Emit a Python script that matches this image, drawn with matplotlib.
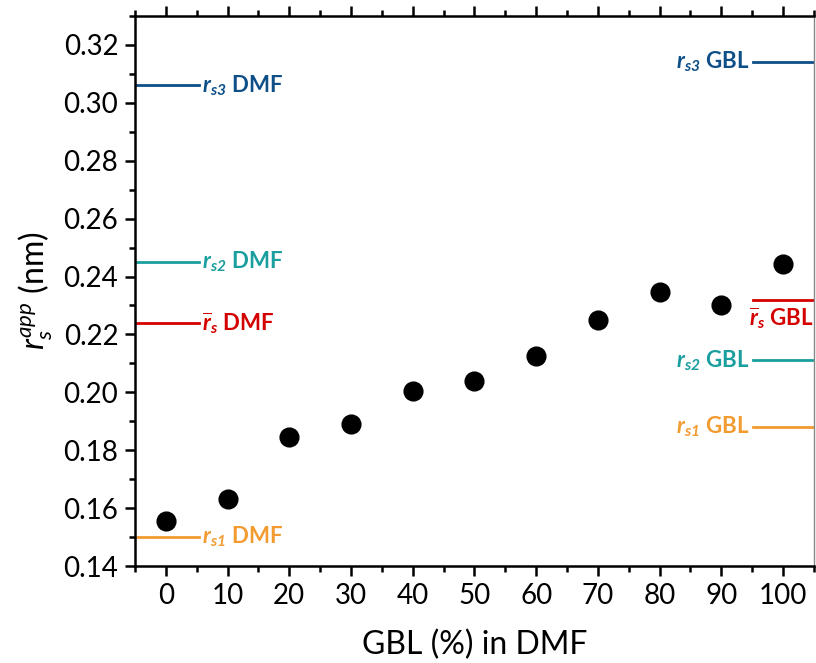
import matplotlib
matplotlib.use("Agg")
import matplotlib.pyplot as plt
from matplotlib.ticker import MultipleLocator

plt.rcParams['font.family'] = ['Lato', 'DejaVu Sans']
plt.rcParams['mathtext.fontset'] = 'custom'
plt.rcParams['mathtext.rm'] = 'Lato'
plt.rcParams['mathtext.it'] = 'Lato:italic'
plt.rcParams['mathtext.bf'] = 'Lato:bold'
plt.rcParams['mathtext.bfit'] = 'Lato:italic:bold'

gbl_pct = [0, 10, 20, 30, 40, 50, 60, 70, 80, 90, 100]
rs_app = [0.1555, 0.1631, 0.1846, 0.1890, 0.2004, 0.2039, 0.2125, 0.2250, 0.2346, 0.2302, 0.2443]

ref_names = ['rs3', 'rs2', 'rsbar', 'rs1']
ref_colors = ['#0e4f88', '#1a9e9e', '#d40000', '#f29b30']
dmf_values = [0.306, 0.245, 0.224, 0.150]
gbl_values = [0.314, 0.211, 0.232, 0.188]
ref_labels = [r'$\mathbfit{r}_{\mathbfit{s3}}$', r'$\mathbfit{r}_{\mathbfit{s2}}$',
              r'$\overline{\mathbfit{r}}_{\mathbfit{s}}$', r'$\mathbfit{r}_{\mathbfit{s1}}$']

fig = plt.figure(figsize=(8.16, 6.63), dpi=100)
ax = fig.add_axes([0.1654, 0.1463, 0.832, 0.8296])

ax.plot(gbl_pct, rs_app, 'o', color='black', ms=13.5, zorder=5, clip_on=False)

for name, col, dv, gv, lab in zip(ref_names, ref_colors, dmf_values, gbl_values, ref_labels):
    ax.plot([-5, 5.3], [dv, dv], color=col, lw=2)
    ax.text(5.9, dv, lab + ' DMF', color=col, fontsize=16, fontweight='bold',
            ha='left', va='center')
    ax.plot([95.2, 105], [gv, gv], color=col, lw=2)
    if name == 'rsbar':
        ax.text(94.5, gv - 0.0064, lab + ' GBL', color=col, fontsize=16, fontweight='bold',
                ha='left', va='center', clip_on=True)
    else:
        ax.text(94.6, gv, lab + ' GBL', color=col, fontsize=16, fontweight='bold',
                ha='right', va='center')

ax.set_xlim(-5, 105)
ax.set_ylim(0.14, 0.33)
ax.xaxis.set_major_locator(MultipleLocator(10))
ax.xaxis.set_minor_locator(MultipleLocator(5))
ax.yaxis.set_major_locator(MultipleLocator(0.02))
ax.yaxis.set_minor_locator(MultipleLocator(0.01))
ax.yaxis.set_major_formatter(matplotlib.ticker.FormatStrFormatter('%.2f'))

ax.tick_params(which='both', direction='out', width=1.8, top=True, right=False,
               labelsize=20)
ax.tick_params(which='major', length=7, pad=5)
ax.tick_params(which='minor', length=4)
for s in ['left', 'bottom', 'top']:
    ax.spines[s].set_linewidth(1.8)
ax.spines['right'].set_linewidth(1.0)
ax.spines['right'].set_color('#888888')

ax.set_xlabel('GBL (%) in DMF', fontsize=23, labelpad=15)
ax.set_ylabel(r'$r_s^{app}$ (nm)', fontsize=23, labelpad=6)

fig.savefig('out.png', dpi=100)
